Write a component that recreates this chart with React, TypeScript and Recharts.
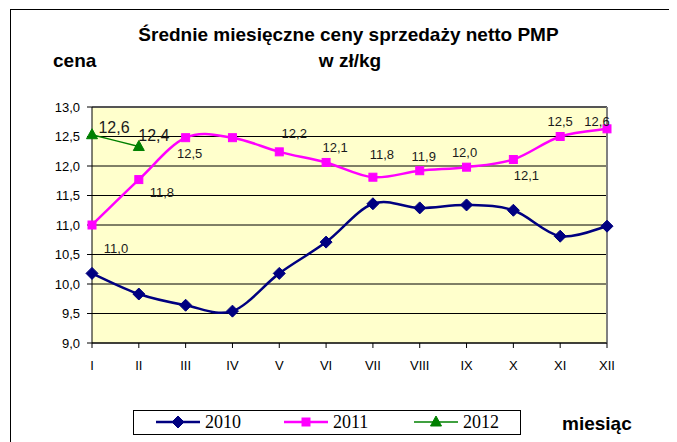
import React from 'react';
import { LineChart, Line, XAxis, YAxis, CartesianGrid, ReferenceLine } from 'recharts';

const months = ['I', 'II', 'III', 'IV', 'V', 'VI', 'VII', 'VIII', 'IX', 'X', 'XI', 'XII'];
const values2010 = [10.18, 9.83, 9.64, 9.54, 10.18, 10.71, 11.36, 11.29, 11.34, 11.25, 10.81, 10.98];
const values2011 = [11.0, 11.77, 12.48, 12.48, 12.24, 12.06, 11.81, 11.92, 11.98, 12.11, 12.5, 12.63];
const values2012: (number | null)[] = [12.53, 12.33, null, null, null, null, null, null, null, null, null, null];
const labels2011: (string | null)[] = ['11,0', '11,8', '12,5', null, '12,2', '12,1', '11,8', '11,9', '12,0', '12,1', '12,5', '12,6'];
const labels2012: (string | null)[] = ['12,6', '12,4'];
const yTicks = [9, 9.5, 10, 10.5, 11, 11.5, 12, 12.5, 13];
const seriesNames = ['2010', '2011', '2012'];

// label placement (offset of label centre from its point), layout only
const labelOffsets2011: ([number, number] | null)[] = [
  [24, 23], [23, 13], [4, 16], null, [15, -19], [9, -15], [9, -23], [4, -14], [-2, -15], [13, 16], [0, -15], [-10, -8],
];
const labelOffsets2012: [number, number][] = [[22, -7], [15, -11]];

const data = months.map((m, i) => ({
  month: m,
  y2010: values2010[i],
  y2011: values2011[i],
  y2012: values2012[i],
}));

const COL2010 = '#000080';
const COL2011 = '#FF00FF';
const COL2012 = '#008000';
const FONT = '"Liberation Sans", Arial, sans-serif';

function excelCurve(context: any) {
  let xs: number[] = [];
  let ys: number[] = [];
  return {
    areaStart() {},
    areaEnd() {},
    lineStart() { xs = []; ys = []; },
    point(x: number, y: number) { xs.push(+x); ys.push(+y); },
    lineEnd() {
      const n = xs.length;
      if (n === 0) return;
      context.moveTo(xs[0], ys[0]);
      for (let i = 0; i < n - 1; i++) {
        const i0 = Math.max(0, i - 1);
        const i3 = Math.min(n - 1, i + 2);
        const c1x = xs[i] + (xs[i + 1] - xs[i0]) / 6;
        const c1y = ys[i] + (ys[i + 1] - ys[i0]) / 6;
        const c2x = xs[i + 1] - (xs[i3] - xs[i]) / 6;
        const c2y = ys[i + 1] - (ys[i3] - ys[i]) / 6;
        context.bezierCurveTo(c1x, c1y, c2x, c2y, xs[i + 1], ys[i + 1]);
      }
    },
  };
}

const Diamond = ({ cx, cy, r = 6 }: any) => (
  <polygon points={`${cx},${cy - r} ${cx + r},${cy} ${cx},${cy + r} ${cx - r},${cy}`} fill={COL2010} stroke={COL2010} />
);
const Square = ({ cx, cy, s = 8 }: any) => (
  <rect x={cx - s / 2} y={cy - s / 2} width={s} height={s} fill={COL2011} stroke={COL2011} />
);
const Triangle = ({ cx, cy }: any) => (
  <polygon points={`${cx},${cy - 6} ${cx + 5.5},${cy + 4} ${cx - 5.5},${cy + 4}`} fill={COL2012} stroke={COL2012} />
);

const dot2010 = (p: any) => (p.cy == null ? <g key={`a${p.index}`} /> : <Diamond key={`a${p.index}`} cx={p.cx} cy={p.cy} />);
const dot2011 = (p: any) => (p.cy == null ? <g key={`b${p.index}`} /> : <Square key={`b${p.index}`} cx={p.cx} cy={p.cy} />);
const dot2012 = (p: any) => (p.cy == null ? <g key={`c${p.index}`} /> : <Triangle key={`c${p.index}`} cx={p.cx} cy={p.cy} />);

const makeLabel = (texts: (string | null)[], offsets: any[], size: number, prefix: string) => (p: any) => {
  const t = texts[p.index];
  const o = offsets[p.index];
  if (!t || !o || p.y == null || p.value == null) return <g key={`${prefix}${p.index}`} />;
  return (
    <text
      key={`${prefix}${p.index}`}
      x={p.x + o[0]}
      y={p.y + o[1] + size * 0.36}
      textAnchor="middle"
      fontFamily={FONT}
      fontSize={size}
      fill="#1a1a1a"
    >
      {t}
    </text>
  );
};

const label2011 = makeLabel(labels2011, labelOffsets2011, 13, 'l1-');
const label2012 = makeLabel(labels2012, labelOffsets2012, 16, 'l2-');

const legendItems = [
  { name: seriesNames[0], color: COL2010, x: 148, marker: 'diamond', w: 2.5 },
  { name: seriesNames[1], color: COL2011, x: 276, marker: 'square', w: 2.5 },
  { name: seriesNames[2], color: COL2012, x: 406, marker: 'triangle', w: 1.5 },
];

export default function App() {
  return (
    <div style={{ position: 'relative', width: 669, height: 434, overflow: 'hidden', background: '#fff' }}>
      <LineChart
        width={669}
        height={434}
        data={data}
        margin={{ top: 99, right: 70, left: 0, bottom: 0 }}
      >
        <CartesianGrid fill="#FFFFCC" stroke="#000" strokeOpacity={1} vertical={false} horizontalValues={yTicks} />
        <XAxis
          dataKey="month"
          height={99}
          tickSize={5}
          tickMargin={13}
          axisLine={{ stroke: '#000' }}
          tickLine={{ stroke: '#000' }}
          tick={{ fill: '#000', fontSize: 13, fontFamily: FONT }}
          interval={0}
        />
        <YAxis
          width={84}
          domain={[9, 13]}
          ticks={yTicks}
          tickSize={5}
          tickMargin={7}
          axisLine={{ stroke: '#000' }}
          tickLine={{ stroke: '#000' }}
          tick={{ fill: '#000', fontSize: 13, fontFamily: FONT }}
          tickFormatter={(v: number) => v.toFixed(1).replace('.', ',')}
          allowDataOverflow
        />
        <ReferenceLine y={13} stroke="#555" strokeWidth={2} />
        <ReferenceLine x="XII" stroke="#808080" strokeWidth={2} />
        <Line
          dataKey="y2010"
          type={excelCurve as any}
          stroke={COL2010}
          strokeWidth={2.5}
          dot={dot2010}
          activeDot={false}
          isAnimationActive={false}
        />
        <Line
          dataKey="y2011"
          type={excelCurve as any}
          stroke={COL2011}
          strokeWidth={2.5}
          dot={dot2011}
          activeDot={false}
          label={label2011}
          isAnimationActive={false}
        />
        <Line
          dataKey="y2012"
          type={excelCurve as any}
          stroke={COL2012}
          strokeWidth={1.5}
          dot={dot2012}
          activeDot={false}
          label={label2012}
          isAnimationActive={false}
        />
      </LineChart>
      <svg width={669} height={434} style={{ position: 'absolute', left: 0, top: 0, pointerEvents: 'none' }}>
        <line x1={2.5} y1={1.5} x2={2.5} y2={434} stroke="#000" strokeWidth={1} />
        <line x1={2} y1={1.5} x2={669} y2={1.5} stroke="#000" strokeWidth={1} />
        <text x={340.5} y={33} textAnchor="middle" fontFamily={FONT} fontWeight="bold" fontSize={19} fill="#000">
          Średnie miesięczne ceny sprzedaży netto PMP
        </text>
        <text x={342} y={59} textAnchor="middle" fontFamily={FONT} fontWeight="bold" fontSize={19} fill="#000">
          w zł/kg
        </text>
        <text x={45} y={59} fontFamily={FONT} fontWeight="bold" fontSize={19} fill="#000">
          cena
        </text>
        <text x={554} y={422} fontFamily={FONT} fontWeight="bold" fontSize={19} fill="#000">
          miesiąc
        </text>
        <rect x={125.5} y={402.5} width={387} height={24} fill="#fff" stroke="#000" strokeWidth={1} />
        {legendItems.map((it) => {
          const cy = 414;
          const mx = it.x + 22;
          return (
            <g key={it.name}>
              <line x1={it.x} y1={cy} x2={it.x + 44} y2={cy} stroke={it.color} strokeWidth={it.w} />
              {it.marker === 'diamond' && <Diamond cx={mx} cy={cy} r={6} />}
              {it.marker === 'square' && <Square cx={mx} cy={cy} s={8} />}
              {it.marker === 'triangle' && <Triangle cx={mx} cy={cy} />}
              <text x={it.x + 49} y={420.3} fontFamily='"Liberation Serif", "Times New Roman", serif' fontSize={18} fill="#000">
                {it.name}
              </text>
            </g>
          );
        })}
      </svg>
    </div>
  );
}
